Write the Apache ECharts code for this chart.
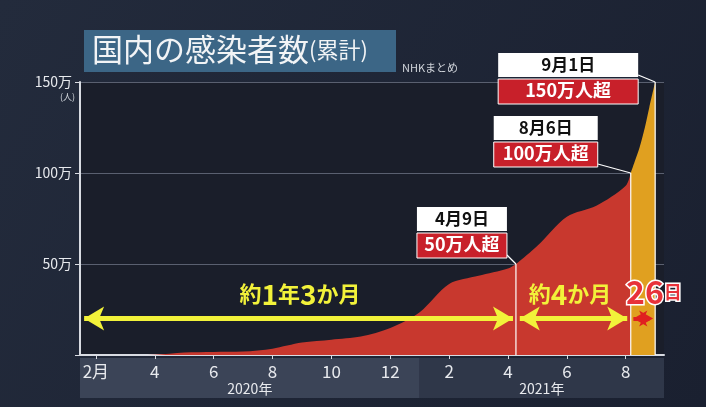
<!DOCTYPE html>
<html>
<head>
<meta charset="utf-8">
<script src="https://cdn.jsdelivr.net/npm/echarts@6/dist/echarts.min.js"></script>
<style>
  html, body { margin: 0; padding: 0; background: #1f2636; }
  #chart { width: 706px; height: 407px; }
</style>
</head>
<body>
<div id="chart"></div>
<script>
// months counted from 2020-01-01 (1 = Feb 1 2020)
const redDates = [0.5, 2, 3, 4, 5, 6, 7, 8, 9, 10, 11, 12, 13, 14, 15, 15.27, 16, 17, 18, 19, 19.17];
const redValues = [0, 0.03, 0.2, 1.4, 1.7, 1.9, 3.5, 6.8, 8.4, 10.1, 14.8, 23.5, 39, 43.5, 47.5, 50, 60, 76, 82, 93, 100];
const orangeDates = [19.17, 19.3, 19.47, 19.65, 19.8, 20];
const orangeValues = [100, 106, 114, 125, 136, 150];

const tickMonths = [1, 3, 5, 7, 9, 11, 13, 15, 17, 19];
const tickLabels = ['2月', '4', '6', '8', '10', '12', '2', '4', '6', '8'];
const yTicks = [50, 100, 150];

const events = [
  { x: 15.27, y: 50, day: '4月9日', text: '50万人超', w: 90, dx: -99, dy: -57 },
  { x: 19.17, y: 100, day: '8月6日', text: '100万人超', w: 104, dx: -137, dy: -57 },
  { x: 20, y: 150, day: '9月1日', text: '150万人超', w: 140, dx: -157, dy: -29 }
];

function toPairs(xs, ys) {
  return xs.map((x, i) => [x, ys[i]]);
}

let chart = echarts.init(document.getElementById('chart'));
const FONT = '"Noto Sans CJK JP", sans-serif';

let option = {
  backgroundColor: {
    type: 'linear', x: 0, y: 0, x2: 1, y2: 1,
    colorStops: [{ offset: 0, color: '#232b3c' }, { offset: 1, color: '#1a2030' }]
  },
  animation: false,
  grid: { left: 80, right: 42, top: 82, bottom: 52, backgroundColor: '#1a1e2a', show: true, borderWidth: 0 },
  xAxis: {
    type: 'value', min: 0.46, max: 20.3,
    splitLine: { show: false },
    axisLine: { lineStyle: { color: '#d8dbe2', width: 2 } },
    axisTick: { show: true, customValues: tickMonths, length: 4, inside: false, lineStyle: { color: '#d8dbe2' } },
    axisLabel: {
      customValues: tickMonths, color: '#e8eaee', fontSize: 17, fontFamily: FONT, margin: 8,
      formatter: v => tickLabels[tickMonths.indexOf(v)]
    }
  },
  yAxis: {
    type: 'value', min: 0, max: 150, interval: 50,
    axisLine: { show: true, lineStyle: { color: '#d8dbe2', width: 2 } },
    axisTick: { show: true, length: 5, lineStyle: { color: '#d8dbe2' } },
    splitLine: { lineStyle: { color: '#5a6070', width: 1 } },
    axisLabel: {
      color: '#e8eaee', fontSize: 14, fontFamily: FONT, margin: 8,
      formatter: v => yTicks.includes(v) ? v + '万' : ''
    }
  },
  series: [
    {
      type: 'line', data: toPairs(redDates, redValues), smooth: 0.3, symbol: 'none',
      lineStyle: { width: 0 }, areaStyle: { color: '#c8382e', opacity: 1 },
      markLine: {
        silent: true, symbol: ['arrow', 'arrow'], symbolSize: [18, 20],
        lineStyle: { color: '#f2f23a', width: 5, type: 'solid' }, label: { show: false },
        data: [
          [{ coord: [0.6, 20] }, { coord: [15.17, 20] }],
          [{ coord: [15.4, 20] }, { coord: [19.05, 20] }]
        ]
      }
    },
    {
      type: 'line', data: toPairs(orangeDates, orangeValues), smooth: 0.3, symbol: 'none',
      lineStyle: { width: 0 }, areaStyle: { color: '#e0a020', opacity: 1 },
      markLine: {
        silent: true, symbol: ['arrow', 'arrow'], symbolSize: [12, 14],
        lineStyle: { color: '#e02020', width: 4 }, label: { show: false },
        data: [[{ coord: [19.26, 20] }, { coord: [19.93, 20] }]]
      }
    }
  ]
};
chart.setOption(option);

// annotations anchored to data points
let g = [];
let base = chart.convertToPixel({ gridIndex: 0 }, [0, 0]);
let left = chart.convertToPixel({ gridIndex: 0 }, [0.46, 0]);
let right = chart.convertToPixel({ gridIndex: 0 }, [20.3, 0]);
let split = chart.convertToPixel({ gridIndex: 0 }, [12, 0]);

// x label band
g.push({ type: 'rect', shape: { x: left[0], y: base[1] + 3, width: split[0] - left[0], height: 40 }, style: { fill: '#3b4457' }, z: -1 });
g.push({ type: 'rect', shape: { x: split[0], y: base[1] + 3, width: right[0] - split[0], height: 40 }, style: { fill: '#2f3749' }, z: -1 });
g.push({ type: 'text', x: (left[0] + split[0]) / 2, y: base[1] + 27, style: { text: '2020年', fill: '#e8eaee', font: '14px ' + FONT, align: 'center' } });
g.push({ type: 'text', x: (split[0] + right[0]) / 2, y: base[1] + 27, style: { text: '2021年', fill: '#e8eaee', font: '14px ' + FONT, align: 'center' } });

// title
g.push({ type: 'rect', shape: { x: 84, y: 30, width: 312, height: 42 }, style: { fill: '#3c6686' } });
g.push({ type: 'text', x: 92, y: 34, style: { rich: { a: { fill: '#f2f4f6', font: '31px ' + FONT }, b: { fill: '#f2f4f6', font: '22px ' + FONT } }, text: '{a|国内の感染者数}{b|(累計)}' } });
g.push({ type: 'text', x: 402, y: 62, style: { text: 'NHKまとめ', fill: '#d0d4da', font: '11px ' + FONT } });
g.push({ type: 'text', x: 60, y: 92, style: { text: '(人)', fill: '#d0d4da', font: '9px ' + FONT } });

// arrow texts
const yRich = { s: { fill: '#f2f23a', font: 'bold 22px ' + FONT }, b: { fill: '#f2f23a', font: 'bold 28px ' + FONT } };
g.push({ type: 'text', x: 300, y: 280, z: 20, style: { text: '{s|約}{b|1}{s|年}{b|3}{s|か月}', rich: yRich, align: 'center' } });
g.push({ type: 'text', x: 570, y: 280, z: 20, style: { text: '{s|約}{b|4}{s|か月}', rich: yRich, align: 'center' } });
g.push({ type: 'text', x: 626, y: 276, z: 20, style: { text: '{b|26}{s|日}', rich: { b: { fill: '#e8323a', font: 'bold 32px ' + FONT }, s: { fill: '#e8323a', font: 'bold 18px ' + FONT } }, stroke: '#ffffff', lineWidth: 3 } });

events.forEach(ev => {
  let p = chart.convertToPixel({ gridIndex: 0 }, [ev.x, ev.y]);
  let bx = p[0] + ev.dx, by = p[1] + ev.dy;
  g.push({ type: 'line', shape: { x1: p[0], y1: p[1], x2: p[0], y2: base[1] }, style: { stroke: '#ffffff', lineWidth: 1.2 }, z: 5 });
  g.push({ type: 'line', shape: { x1: bx + ev.w, y1: by + (ev.y === 150 ? 22 : 48), x2: p[0], y2: p[1] }, style: { stroke: '#ffffff', lineWidth: 1.2 }, z: 5 });
  g.push({ type: 'rect', shape: { x: bx, y: by, width: ev.w, height: 24 }, style: { fill: '#ffffff' }, z: 6 });
  g.push({ type: 'text', x: bx + ev.w / 2, y: by + 3, style: { text: ev.day, fill: '#111111', font: 'bold 17px ' + FONT, align: 'center' }, z: 7 });
  g.push({ type: 'rect', shape: { x: bx, y: by + 26, width: ev.w, height: 25 }, style: { fill: '#c8202a', stroke: '#ffffff', lineWidth: 1 }, z: 6 });
  g.push({ type: 'text', x: bx + ev.w / 2, y: by + 28, style: { text: ev.text, fill: '#ffffff', font: 'bold 18px ' + FONT, align: 'center' }, z: 7 });
});

chart.setOption({ graphic: g });
</script>
</body>
</html>
